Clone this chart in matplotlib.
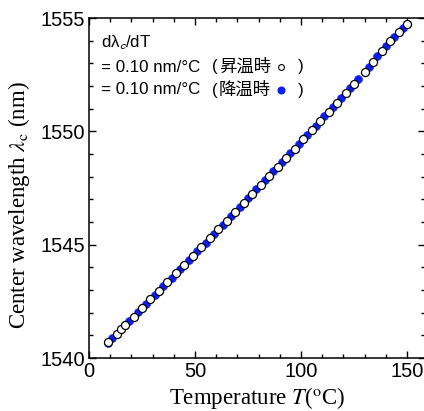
import matplotlib
matplotlib.use("Agg")
import matplotlib.pyplot as plt
from matplotlib.ticker import MultipleLocator

plt.rcParams['mathtext.fontset'] = 'stix'

# heating (open circles)
t_up = [9, 13, 15, 17, 21, 25, 29, 33, 37, 41, 45, 49, 53, 57, 61, 65, 69, 73,
        77, 81, 85, 89, 93, 97, 101, 105, 109, 113, 117, 121, 125, 130, 134,
        138, 142, 146, 150]
wl_up = [1540.71, 1541.08, 1541.27, 1541.46, 1541.83, 1542.21, 1542.59, 1542.97,
         1543.35, 1543.73, 1544.12, 1544.50, 1544.89, 1545.28, 1545.67, 1546.06,
         1546.45, 1546.85, 1547.24, 1547.64, 1548.04, 1548.44, 1548.84, 1549.24,
         1549.65, 1550.05, 1550.46, 1550.87, 1551.27, 1551.69, 1552.10, 1552.61,
         1553.05, 1553.55, 1553.97, 1554.38, 1554.75]

# cooling (blue filled)
t_down = [9, 11, 19, 23, 27, 31, 35, 39, 43, 47, 51, 55, 59, 63, 67, 71, 75, 79,
          83, 87, 91, 95, 99, 103, 107, 111, 115, 119, 123, 127, 132, 136, 140,
          144, 148, 150]
wl_down = [1540.65, 1540.89, 1541.64, 1542.02, 1542.40, 1542.78, 1543.16, 1543.54,
           1543.93, 1544.31, 1544.70, 1545.09, 1545.47, 1545.87, 1546.26, 1546.65,
           1547.05, 1547.44, 1547.84, 1548.24, 1548.64, 1549.04, 1549.44, 1549.85,
           1550.25, 1550.66, 1551.07, 1551.48, 1551.89, 1552.30, 1552.82, 1553.34,
           1553.76, 1554.17, 1554.57, 1554.72]

W, H = 424, 411
fig = plt.figure(figsize=(W / 100, H / 100), dpi=100)
ax = fig.add_axes([89/W, 53/H, 336/W, 340/H])

blue = '#0a1ef5'
ax.plot(t_down, wl_down, 'o', ms=5.6, color=blue, mec=blue, mew=0.5, zorder=3)
ax.plot(t_up, wl_up, 'o', ms=5.8, mfc='white', mec='black', mew=0.9, zorder=4)

ax.set_xlim(0, 158.5)
ax.set_ylim(1540, 1555)
ax.xaxis.set_major_locator(MultipleLocator(50))
ax.xaxis.set_minor_locator(MultipleLocator(10))
ax.yaxis.set_major_locator(MultipleLocator(5))
ax.yaxis.set_minor_locator(MultipleLocator(1))
ax.tick_params(which='both', direction='in', top=True, right=True, width=1.0)
ax.tick_params(which='major', length=5, pad=3, labelsize=14.5)
ax.tick_params(which='minor', length=3)
for lab in ax.get_xticklabels() + ax.get_yticklabels():
    lab.set_family('Liberation Sans')
for sp in ax.spines.values():
    sp.set_linewidth(1.1)

ax.set_xlabel(r'Temperature $T$($^{\rm o}$C)', family='Liberation Serif',
              fontsize=16.5, labelpad=3)
ax.set_ylabel(r'Center wavelength $\lambda_{\rm c}$ (nm)', family='Liberation Serif',
              fontsize=16.5)
ax.yaxis.set_label_coords(-0.17, 0.45)

# annotation, positions in pixels from the top-left corner
def put(x, y, s, **kw):
    fig.text(x / W, 1 - y / H, s, va='center', **kw)

fam = ['Liberation Sans', 'Noto Sans CJK JP']
fs = 12.2
put(101, 43, r'dλ$_{\mathsf{c}}$/dT', fontsize=fs, family='Liberation Sans')
put(101, 67, '= 0.10 nm/°C', fontsize=fs, family='Liberation Sans')
put(101, 90, '= 0.10 nm/°C', fontsize=fs, family='Liberation Sans')
put(212, 67, '(', fontsize=fs, family='Liberation Sans')
put(212, 90, '(', fontsize=fs, family='Liberation Sans')
put(219, 67, '昇温時', fontsize=12.5, family=fam)
put(219, 90, '降温時', fontsize=12.5, family=fam)
put(298, 67, ')', fontsize=fs, family='Liberation Sans')
put(298, 90, ')', fontsize=fs, family='Liberation Sans')
fig.lines.append(plt.Line2D([281 / W], [1 - 67 / H], marker='o', ms=4.2, mfc='white',
                            mec='black', mew=0.8, transform=fig.transFigure))
fig.lines.append(plt.Line2D([281 / W], [1 - 90 / H], marker='o', ms=4.8, color=blue,
                            mec=blue, transform=fig.transFigure))

fig.savefig('out.png', dpi=100)
